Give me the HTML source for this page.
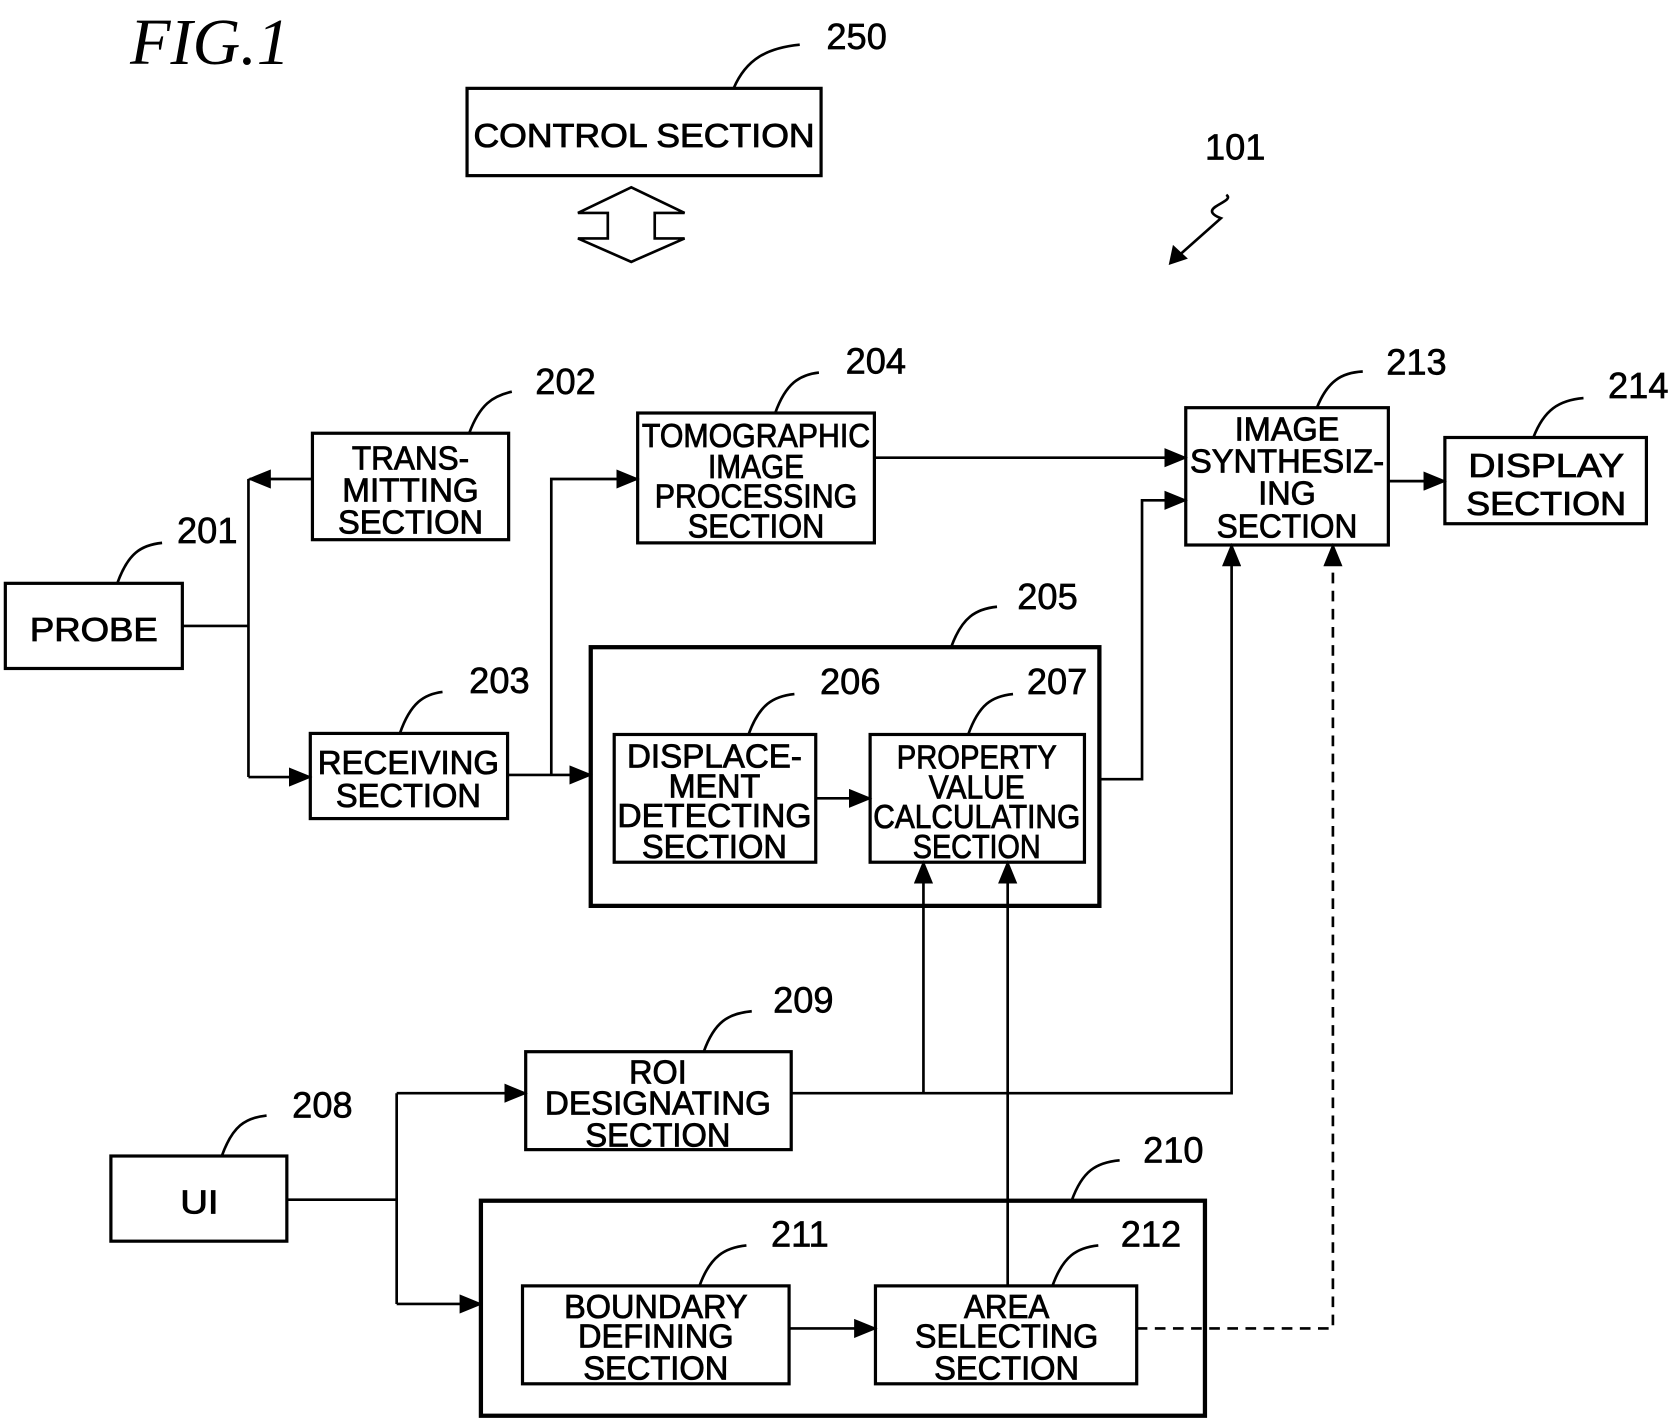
<!DOCTYPE html>
<html><head><meta charset="utf-8"><style>
html,body{margin:0;padding:0;background:#fff;}
svg{display:block;}
text{font-family:"Liberation Sans",sans-serif;fill:#000;}
.b{fill:none;stroke:#000;stroke-width:3;}
.t{fill:none;stroke:#000;stroke-width:4;}
.l{fill:none;stroke:#000;stroke-width:2.5;}
.c{fill:none;stroke:#000;stroke-width:2.5;}
.bx{font-size:31px;text-anchor:middle;stroke:#000;stroke-width:0.8;}
.n{font-size:34px;stroke:#000;stroke-width:0.6;}
</style></head><body>
<svg width="1672" height="1420" viewBox="0 0 1568 1334" preserveAspectRatio="none" xmlns="http://www.w3.org/2000/svg">
<defs>
<marker id="a" markerWidth="22" markerHeight="18" refX="20" refY="9" orient="auto" markerUnits="userSpaceOnUse" viewBox="0 0 22 18">
<path d="M0,0 L22,9 L0,18 z" fill="#000"/></marker>
</defs>
<text x="122" y="60" style="font-family:'Liberation Serif',serif;font-style:italic;font-size:62px">FIG.1</text>

<rect class="b" x="438" y="83" width="332" height="82"/>
<rect class="b" x="5" y="548" width="166" height="80"/>
<rect class="b" x="293" y="407" width="184" height="100"/>
<rect class="b" x="291" y="689" width="185" height="80"/>
<rect class="b" x="598" y="388" width="222" height="122"/>
<rect class="t" x="554" y="608" width="477" height="243"/>
<rect class="b" x="576" y="690" width="189" height="120"/>
<rect class="b" x="816" y="690" width="201" height="120"/>
<rect class="b" x="1112" y="383" width="190" height="129"/>
<rect class="b" x="1355" y="411" width="189" height="81"/>
<rect class="b" x="493" y="988" width="249" height="92"/>
<rect class="b" x="104" y="1086" width="165" height="80"/>
<rect class="t" x="451" y="1128" width="679" height="202"/>
<rect class="b" x="490" y="1208" width="250" height="92"/>
<rect class="b" x="821" y="1208" width="245" height="92"/>

<path class="c" d="M592,176 L642,200 L614,200 L614,224 L642,224 L592,246 L542,224 L570,224 L570,200 L542,200 Z"/>
<path class="c" d="M1150,183 C1160,190 1120,195 1145,205 L1100,245"/>
<path d="M1096,249 L1100,230 L1114,243 Z" fill="#000"/>

<g class="l">
<path d="M171,588 H233 M233,450 V730"/>
<path d="M293,450 H234" marker-end="url(#a)"/>
<path d="M233,730 H291" marker-end="url(#a)"/>
<path d="M476,728 H554" marker-end="url(#a)"/>
<path d="M517,728 V450 H598" marker-end="url(#a)"/>
<path d="M820,430 H1112" marker-end="url(#a)"/>
<path d="M1031,732 H1071 V470 H1112" marker-end="url(#a)"/>
<path d="M765,750 H816" marker-end="url(#a)"/>
<path d="M742,1027 H1155 V512" marker-end="url(#a)"/>
<path d="M866,1027 V810" marker-end="url(#a)"/>
<path d="M945,1208 V810" marker-end="url(#a)"/>
<path d="M1302,452 H1355" marker-end="url(#a)"/>
<path d="M269,1127 H372 M372,1027 V1225"/>
<path d="M372,1027 H493" marker-end="url(#a)"/>
<path d="M372,1225 H451" marker-end="url(#a)"/>
<path d="M740,1248 H821" marker-end="url(#a)"/>
<path d="M1066,1248 H1250 V512" stroke-dasharray="10,7" marker-end="url(#a)"/>
</g>

<g class="c">
<path d="M688,83 C700,55 720,45 750,42"/>
<path d="M440,407 C450,380 462,372 480,368"/>
<path d="M110,548 C120,520 132,512 152,510"/>
<path d="M727,388 C737,360 750,352 768,350"/>
<path d="M375,689 C385,660 398,652 415,650"/>
<path d="M892,608 C902,580 915,572 935,570"/>
<path d="M702,690 C712,662 725,654 745,652"/>
<path d="M908,690 C918,662 930,654 950,652"/>
<path d="M1235,383 C1245,358 1258,350 1278,349"/>
<path d="M1438,411 C1448,385 1462,376 1485,374"/>
<path d="M660,988 C670,960 683,952 705,950"/>
<path d="M208,1086 C218,1058 230,1050 250,1048"/>
<path d="M1005,1128 C1015,1100 1028,1092 1050,1090"/>
<path d="M656,1208 C666,1180 680,1172 700,1170"/>
<path d="M987,1208 C997,1180 1010,1172 1030,1170"/>
</g>

<g class="n">
<text x="775" y="46">250</text>
<text x="1130" y="150">101</text>
<text x="502" y="370">202</text>
<text x="166" y="510">201</text>
<text x="793" y="351">204</text>
<text x="440" y="651">203</text>
<text x="954" y="572">205</text>
<text x="769" y="652">206</text>
<text x="963" y="652">207</text>
<text x="1300" y="352">213</text>
<text x="1508" y="374">214</text>
<text x="725" y="951">209</text>
<text x="274" y="1050">208</text>
<text x="1072" y="1092">210</text>
<text x="723" y="1171">211</text>
<text x="1051" y="1171">212</text>
</g>

<g class="bx">
<text x="604" y="138" textLength="320" lengthAdjust="spacingAndGlyphs">CONTROL SECTION</text>
<text x="88" y="602" textLength="120" lengthAdjust="spacingAndGlyphs">PROBE</text>
<text x="385" y="441" textLength="110" lengthAdjust="spacingAndGlyphs">TRANS-</text>
<text x="385" y="471" textLength="128" lengthAdjust="spacingAndGlyphs">MITTING</text>
<text x="385" y="501" textLength="136" lengthAdjust="spacingAndGlyphs">SECTION</text>
<text x="383" y="727" textLength="170" lengthAdjust="spacingAndGlyphs">RECEIVING</text>
<text x="383" y="758" textLength="136" lengthAdjust="spacingAndGlyphs">SECTION</text>
<text x="709" y="420" textLength="214" lengthAdjust="spacingAndGlyphs">TOMOGRAPHIC</text>
<text x="709" y="449" textLength="90" lengthAdjust="spacingAndGlyphs">IMAGE</text>
<text x="709" y="477" textLength="190" lengthAdjust="spacingAndGlyphs">PROCESSING</text>
<text x="709" y="505" textLength="128" lengthAdjust="spacingAndGlyphs">SECTION</text>
<text x="670" y="721" textLength="164" lengthAdjust="spacingAndGlyphs">DISPLACE-</text>
<text x="670" y="749" textLength="86" lengthAdjust="spacingAndGlyphs">MENT</text>
<text x="670" y="777" textLength="182" lengthAdjust="spacingAndGlyphs">DETECTING</text>
<text x="670" y="806" textLength="136" lengthAdjust="spacingAndGlyphs">SECTION</text>
<text x="916" y="722" textLength="150" lengthAdjust="spacingAndGlyphs">PROPERTY</text>
<text x="916" y="750" textLength="90" lengthAdjust="spacingAndGlyphs">VALUE</text>
<text x="916" y="778" textLength="194" lengthAdjust="spacingAndGlyphs">CALCULATING</text>
<text x="916" y="806" textLength="120" lengthAdjust="spacingAndGlyphs">SECTION</text>
<text x="1207" y="414" textLength="98" lengthAdjust="spacingAndGlyphs">IMAGE</text>
<text x="1207" y="444" textLength="182" lengthAdjust="spacingAndGlyphs">SYNTHESIZ-</text>
<text x="1207" y="474" textLength="54" lengthAdjust="spacingAndGlyphs">ING</text>
<text x="1207" y="505" textLength="132" lengthAdjust="spacingAndGlyphs">SECTION</text>
<text x="1450" y="448" textLength="146" lengthAdjust="spacingAndGlyphs">DISPLAY</text>
<text x="1450" y="484" textLength="150" lengthAdjust="spacingAndGlyphs">SECTION</text>
<text x="617" y="1018" textLength="54" lengthAdjust="spacingAndGlyphs">ROI</text>
<text x="617" y="1047" textLength="212" lengthAdjust="spacingAndGlyphs">DESIGNATING</text>
<text x="617" y="1077" textLength="136" lengthAdjust="spacingAndGlyphs">SECTION</text>
<text x="187" y="1140" textLength="36" lengthAdjust="spacingAndGlyphs">UI</text>
<text x="615" y="1238" textLength="172" lengthAdjust="spacingAndGlyphs">BOUNDARY</text>
<text x="615" y="1266" textLength="146" lengthAdjust="spacingAndGlyphs">DEFINING</text>
<text x="615" y="1296" textLength="136" lengthAdjust="spacingAndGlyphs">SECTION</text>
<text x="944" y="1238" textLength="80" lengthAdjust="spacingAndGlyphs">AREA</text>
<text x="944" y="1266" textLength="172" lengthAdjust="spacingAndGlyphs">SELECTING</text>
<text x="944" y="1296" textLength="136" lengthAdjust="spacingAndGlyphs">SECTION</text>
</g>
</svg>
</body></html>
